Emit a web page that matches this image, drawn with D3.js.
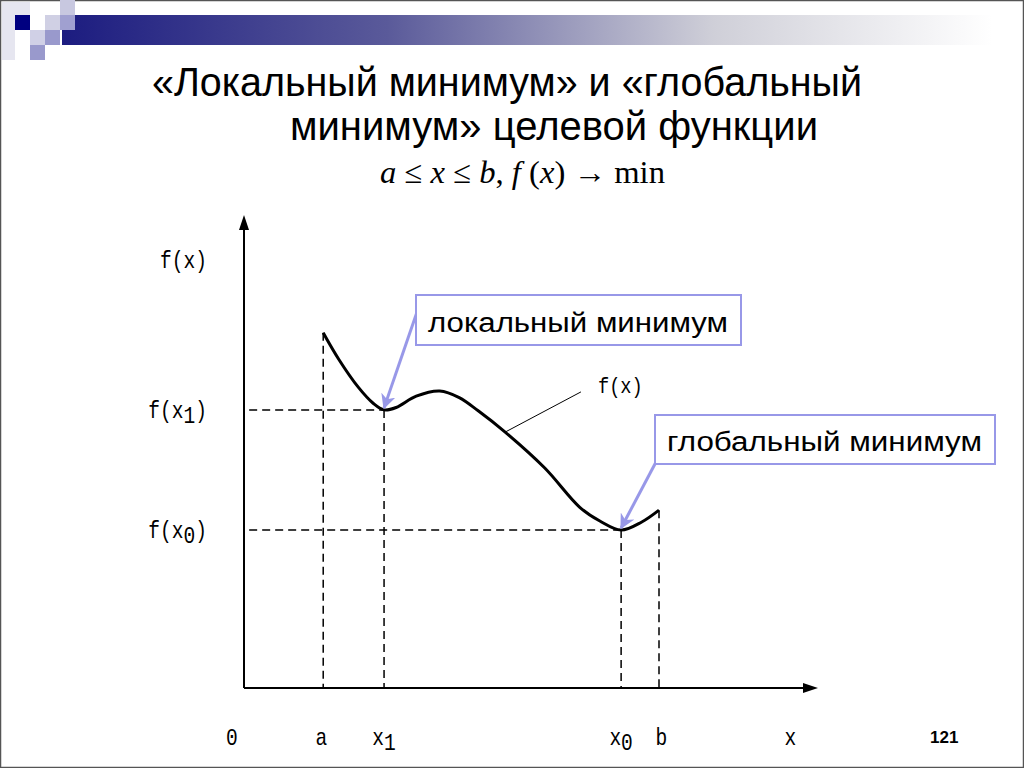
<!DOCTYPE html>
<html><head><meta charset="utf-8">
<script src="https://cdn.jsdelivr.net/npm/d3@7"></script>
<style>body{margin:0;background:#fff}svg{display:block}</style>
</head><body>
<svg id="c" width="1024" height="768"></svg>
<script>
// ---- data ----
const curveX = [13.8,16.5,19.9,22.5,24.4,26.5,30.0,34.1,37.5,40.8,45.5,52.4,58.5,62.0,65.7,69.3,72.3];
const curveY = [75.1,69.5,63.6,60.2,58.8,59.3,61.7,62.8,61.4,58.6,54.1,46.5,38.2,35.3,33.4,35.1,37.6];
const xMarks = {a:13.8, x1:24.4, x0:65.7, b:72.3};
const yMarks = {fx1:58.8, fx0:33.4};
const xTickLabels = [{v:-2.1,t:"0"},{v:13.5,t:"a"},{v:24.4,t:"x",sub:"1"},{v:65.7,t:"x",sub:"0"},{v:72.7,t:"b"},{v:95.2,t:"x"}];
const yTickLabels = [{v:90.5,t:"f(x",sub:"",end:")"},{v:58.8,t:"f(x",sub:"1",end:")"},{v:33.4,t:"f(x",sub:"0",end:")"}];
const leader = [{x:45.5,y:54.1},{x:58.7,y:62.6}];
const titleLines = ["«Локальный минимум» и «глобальный","минимум» целевой функции"];
const formulaParts = [["a",1],[" ≤ ",0],["x",1],[" ≤ ",0],["b",1],[", ",0],["f",1],[" (",0],["x",1],[") → min",0]];
const boxLocal = "локальный минимум", boxGlobal = "глобальный минимум";

const svg = d3.select("#c");
const x = d3.scaleLinear().domain([0,100]).range([244,818]);
const y = d3.scaleLinear().domain([0,100]).range([688,215]);

// ---- slide decoration ----
svg.append("rect").attr("x",0.5).attr("y",0.5).attr("width",1023).attr("height",767).attr("fill","none").attr("stroke","#555").attr("stroke-width",1.5);
const defs = svg.append("defs");
const grad = defs.append("linearGradient").attr("id","band").attr("x1","0").attr("x2","1");
grad.append("stop").attr("offset","0").attr("stop-color","#1c1c80");
grad.append("stop").attr("offset","0.35").attr("stop-color","#5a5a9a");
grad.append("stop").attr("offset","0.7").attr("stop-color","#cfcfd8");
grad.append("stop").attr("offset","1").attr("stop-color","#ffffff");
svg.append("rect").attr("x",62).attr("y",15).attr("width",930).attr("height",30).attr("fill","url(#band)");
const sq = [[2,2,13,58,"#e6e6f0"],[15,2,15,13,"#e6e6f0"],[15,15,15,15,"#000080"],[30,15,15,15,"#ffffff"],[30,30,15,15,"#d0d0e6"],[30,45,15,15,"#9999cc"],[45,15,15,15,"#d0d0e4"],[45,30,15,15,"#9999cc"],[60,0,15,15,"#c8c8e0"],[60,15,15,15,"#a0a0d0"]];
svg.selectAll("rect.sq").data(sq).enter().append("rect").attr("class","sq")
  .attr("x",d=>d[0]).attr("y",d=>d[1]).attr("width",d=>d[2]).attr("height",d=>d[3]).attr("fill",d=>d[4]);

// ---- titles ----
svg.append("text").attr("x",152).attr("y",96).attr("font-family","Liberation Sans, Arial").attr("font-size",41)
  .attr("textLength",710).attr("lengthAdjust","spacingAndGlyphs").text(titleLines[0]);
svg.append("text").attr("x",290).attr("y",140).attr("font-family","Liberation Sans, Arial").attr("font-size",41)
  .attr("textLength",528).attr("lengthAdjust","spacingAndGlyphs").text(titleLines[1]);
const f = svg.append("text").attr("x",380).attr("y",183).attr("font-family","Liberation Serif, Times New Roman").attr("font-size",32)
  .attr("textLength",285).attr("lengthAdjust","spacingAndGlyphs");
formulaParts.forEach(p=>f.append("tspan").attr("font-style",p[1]?"italic":"normal").text(p[0]));

// ---- axes ----
svg.append("line").attr("x1",x(0)).attr("y1",y(0)).attr("x2",x(0)).attr("y2",y(97)).attr("stroke","#000").attr("stroke-width",2);
svg.append("line").attr("x1",x(0)).attr("y1",y(0)).attr("x2",x(98)).attr("y2",y(0)).attr("stroke","#000").attr("stroke-width",2);
svg.append("path").attr("d",`M${x(0)},${y(100)} L${x(0)-5},${y(100)+15} L${x(0)+5},${y(100)+15}Z`).attr("fill","#000");
svg.append("path").attr("d",`M${x(100)},${y(0)} L${x(100)-15},${y(0)-5} L${x(100)-15},${y(0)+5}Z`).attr("fill","#000");

// ---- dashed guides ----
const dash = "8,5";
const guides = [
  [0.9,yMarks.fx1,xMarks.x1,yMarks.fx1],
  [0.9,yMarks.fx0,xMarks.x0,yMarks.fx0],
  [xMarks.a,curveY[0],xMarks.a,0],
  [xMarks.x1,yMarks.fx1,xMarks.x1,0],
  [xMarks.x0,yMarks.fx0,xMarks.x0,0],
  [xMarks.b,curveY[curveY.length-1],xMarks.b,0]];
svg.selectAll("line.g").data(guides).enter().append("line").attr("class","g")
  .attr("x1",d=>x(d[0])).attr("y1",d=>y(d[1])).attr("x2",d=>x(d[2])).attr("y2",d=>y(d[3]))
  .attr("stroke","#000").attr("stroke-width",1.5).attr("stroke-dasharray",dash);

// ---- curve ----
const pts = curveX.map((v,i)=>[v,curveY[i]]);
svg.append("path").datum(pts).attr("fill","none").attr("stroke","#000").attr("stroke-width",3).attr("stroke-linejoin","round")
  .attr("d",d3.line().x(d=>x(d[0])).y(d=>y(d[1])).curve(d3.curveCatmullRom.alpha(0.5)));

// leader
svg.append("line").attr("x1",x(leader[0].x)).attr("y1",y(leader[0].y)).attr("x2",x(leader[1].x)).attr("y2",y(leader[1].y)).attr("stroke","#000").attr("stroke-width",1);

// ---- labels ----
const lf = "Liberation Mono, Courier New, monospace";
function label(px,py,anchor,main,sub,end,fs){
  const t = svg.append("text").attr("transform",`translate(${px},${py}) scale(0.85,1)`).attr("text-anchor",anchor)
    .attr("font-family",lf).attr("font-size",fs).text(main);
  if(sub){ t.append("tspan").attr("dy",5).text(sub); if(end) t.append("tspan").attr("dy",-5).text(end); }
  else if(end) t.append("tspan").text(end);
}
xTickLabels.forEach(d=>label(x(d.v),745,"middle",d.t,d.sub,"",23));
yTickLabels.forEach(d=>label(207,y(d.v)+8,"end",d.t,d.sub,d.end,23));
label(x(leader[1].x)+17,y(leader[1].y)+1,"start","f(x)","",null,22);
svg.append("text").attr("x",930).attr("y",743).attr("font-family","Liberation Sans, Arial").attr("font-weight","bold").attr("font-size",17).text("121");

// ---- callouts ----
const pc = "#9898e8";
defs.append("marker").attr("id","ah").attr("viewBox","0 0 10 10").attr("refX",9).attr("refY",5).attr("markerWidth",5).attr("markerHeight",5).attr("orient","auto").attr("markerUnits","strokeWidth")
  .append("path").attr("d","M0,0 L10,5 L0,10 L3,5Z").attr("fill",pc);
function callout(bx,by,bw,bh,txt,tl,ax,ay,px,py){
  svg.append("line").attr("x1",ax).attr("y1",ay).attr("x2",x(px)).attr("y2",y(py)-2).attr("stroke",pc).attr("stroke-width",3).attr("marker-end","url(#ah)");
  svg.append("rect").attr("x",bx).attr("y",by).attr("width",bw).attr("height",bh).attr("fill","#fff").attr("stroke",pc).attr("stroke-width",2);
  svg.append("text").attr("x",bx+12).attr("y",by+bh-13).attr("font-family","Liberation Sans, Arial").attr("font-size",27)
    .attr("textLength",tl).attr("lengthAdjust","spacingAndGlyphs").text(txt);
}
callout(416,295,325,50,boxLocal,300,417,312,xMarks.x1,yMarks.fx1);
callout(655,415,340,49,boxGlobal,315,656,462,xMarks.x0,yMarks.fx0);
</script>
</body></html>
